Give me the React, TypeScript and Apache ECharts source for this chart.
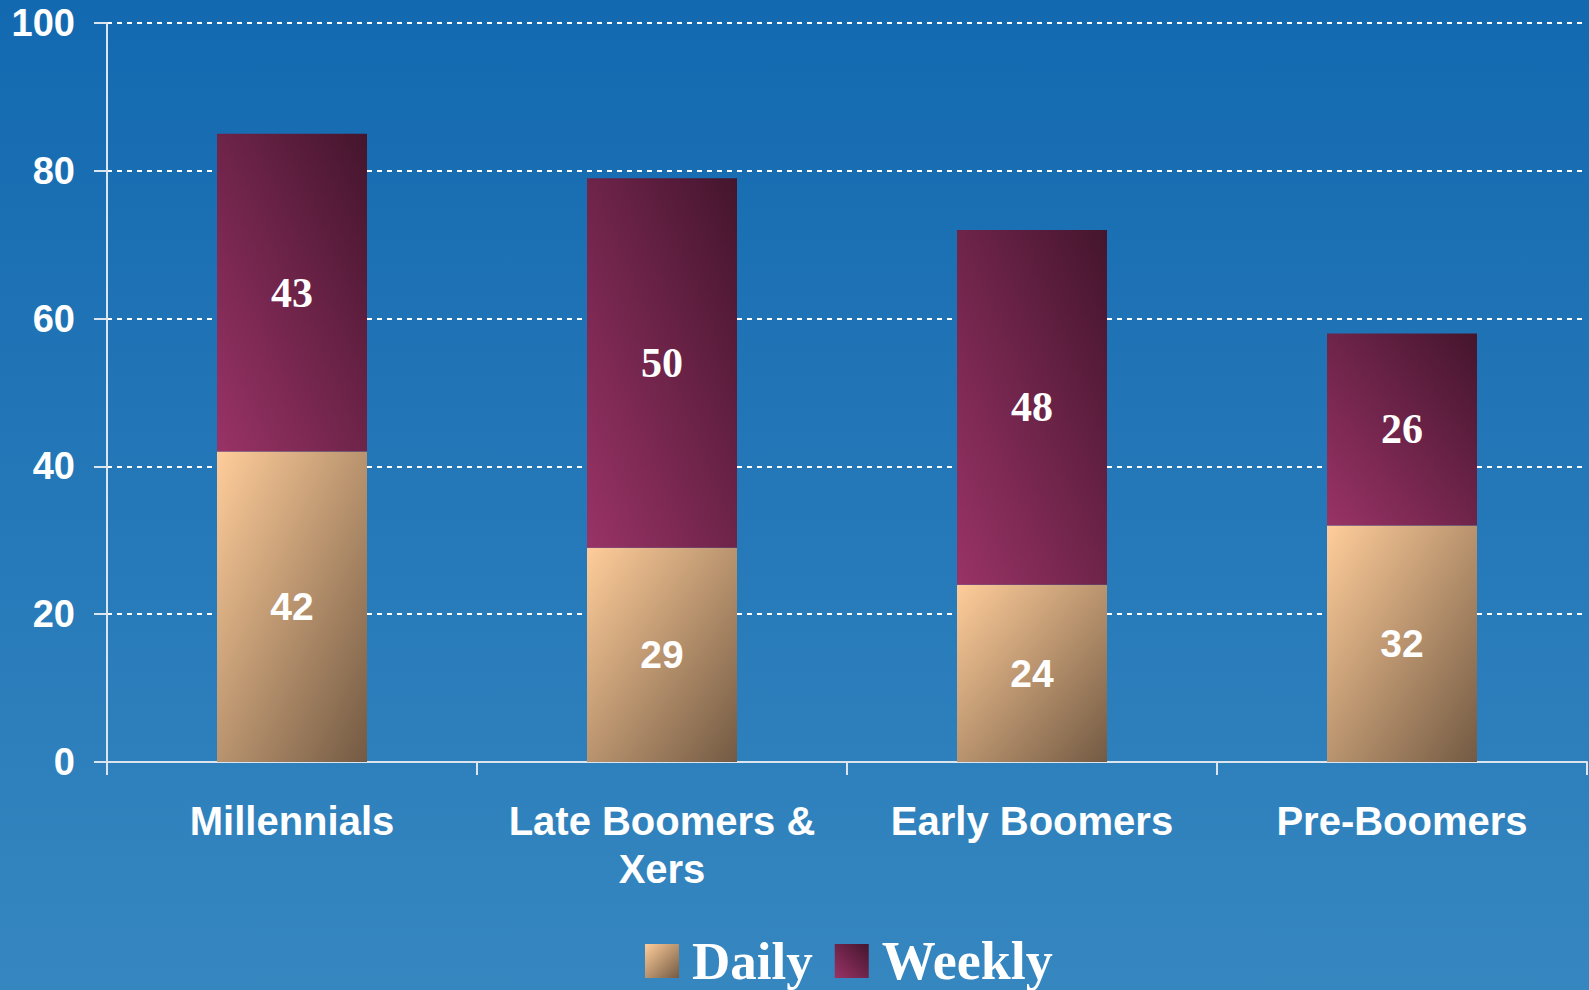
import React, { useEffect, useRef } from "react";
import * as echarts from "echarts";

const categories = ["Millennials", "Late Boomers &\nXers", "Early Boomers", "Pre-Boomers"];
const dailyValues = [42, 29, 24, 32];
const weeklyValues = [43, 50, 48, 26];
const yTicks = { min: 0, max: 100, interval: 20 };
const legendNames = ["Daily", "Weekly"];

export default function App() {
  const ref = useRef<HTMLDivElement>(null);

  useEffect(() => {
    if (!ref.current) return;
    const chart = echarts.init(ref.current, undefined, { renderer: "svg" });
    const dailyColor = new echarts.graphic.LinearGradient(0, 0, 1, 1, [
      { offset: 0, color: "#FFCD9A" },
      { offset: 1, color: "#735A43" },
    ]);
    const weeklyColor = new echarts.graphic.LinearGradient(0, 1, 1, 0, [
      { offset: 0, color: "#993366" },
      { offset: 1, color: "#44152D" },
    ]);
    const axisColor = "#DCE4EE";
    chart.setOption({
      animation: false,
      backgroundColor: "transparent",
      grid: { left: 107, right: 2, top: 23, bottom: 228, containLabel: false },
      legend: {
        data: [
          { name: legendNames[0] },
          { name: legendNames[1], textStyle: { fontSize: 54 } },
        ],
        left: 645,
        top: 934,
        padding: 0,
        itemWidth: 34,
        itemHeight: 34,
        itemGap: 22,
        icon: "rect",
        textStyle: {
          color: "#FFFFFF",
          fontFamily: "Liberation Serif",
          fontWeight: "bold",
          fontSize: 53,
          padding: [0, 0, 0, 8],
        },
      },
      xAxis: {
        type: "category",
        data: categories,
        axisLine: { show: true, lineStyle: { color: axisColor, width: 2 } },
        axisTick: { show: true, length: 13, lineStyle: { color: axisColor, width: 2 } },
        axisLabel: {
          color: "#FFFFFF",
          fontFamily: "Liberation Sans",
          fontWeight: "bold",
          fontSize: 40,
          lineHeight: 48,
          margin: 35,
          interval: 0,
        },
        splitLine: { show: false },
      },
      yAxis: {
        type: "value",
        min: yTicks.min,
        max: yTicks.max,
        interval: yTicks.interval,
        axisLine: { show: true, lineStyle: { color: axisColor, width: 2 } },
        axisTick: { show: true, length: 13, lineStyle: { color: axisColor, width: 2 } },
        axisLabel: {
          color: "#FFFFFF",
          fontFamily: "Liberation Sans",
          fontWeight: "bold",
          fontSize: 38,
          margin: 32,
        },
        splitLine: {
          show: true,
          lineStyle: { color: "#FFFFFF", width: 2, type: [5, 5] },
        },
      },
      series: [
        {
          name: legendNames[0],
          type: "bar",
          stack: "total",
          data: dailyValues,
          barWidth: 150,
          itemStyle: { color: dailyColor },
          label: {
            show: true,
            position: "inside",
            color: "#FFFFFF",
            fontFamily: "Liberation Sans",
            fontWeight: "bold",
            fontSize: 39,
          },
        },
        {
          name: legendNames[1],
          type: "bar",
          stack: "total",
          data: weeklyValues,
          barWidth: 150,
          itemStyle: { color: weeklyColor },
          label: {
            show: true,
            position: "inside",
            color: "#FFFFFF",
            fontFamily: "Liberation Serif",
            fontWeight: "bold",
            fontSize: 42,
          },
        },
      ],
    });
    return () => chart.dispose();
  }, []);

  return (
    <div
      style={{
        position: "fixed",
        left: 0,
        top: 0,
        width: 1589,
        height: 990,
        background: "linear-gradient(to bottom, #1369B0 0%, #3687C0 100%)",
      }}
    >
      <div ref={ref} style={{ width: 1589, height: 990 }} />
    </div>
  );
}
